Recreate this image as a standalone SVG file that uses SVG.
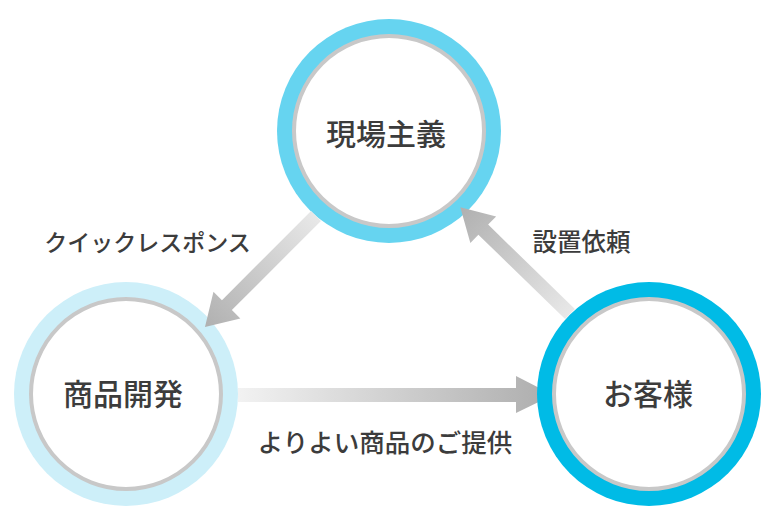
<svg xmlns="http://www.w3.org/2000/svg" width="775" height="525" viewBox="0 0 775 525">
<style>
.lbl{font-family:"Noto Sans CJK JP","Noto Sans",sans-serif;fill:#3c3c3c;text-anchor:middle;font-weight:500}
.node{font-size:30px}
.edge{font-size:23px}
.inner{fill:#fff;stroke:#c8c8c8;stroke-width:4}
</style>
<defs>
<linearGradient id="gL" gradientUnits="userSpaceOnUse" x1="0" y1="0" x2="157" y2="0">
<stop offset="0" stop-color="#e8e8e8"/><stop offset="1" stop-color="#b0b0b0"/>
</linearGradient>
<linearGradient id="gR" gradientUnits="userSpaceOnUse" x1="0" y1="0" x2="153" y2="0">
<stop offset="0" stop-color="#e8e8e8"/><stop offset="1" stop-color="#b0b0b0"/>
</linearGradient>
<linearGradient id="gB" gradientUnits="userSpaceOnUse" x1="238" y1="0" x2="553" y2="0">
<stop offset="0" stop-color="#f2f2f2"/><stop offset="1" stop-color="#adadad"/>
</linearGradient>
</defs>
<rect width="775" height="525" fill="#fff"/>
<g id="connector-bottom">
<polygon points="238,388 516,388 516,376 553,395 516,413 516,402 238,402" fill="url(#gB)"/>
</g>
<g id="node-top">
<circle cx="389" cy="131" r="112" fill="#66d4f0"/>
<circle class="inner" cx="389" cy="131" r="95"/>
<text class="lbl node" x="386" y="145">現場主義</text>
</g>
<g id="node-left">
<circle cx="126" cy="394" r="112" fill="#cdeff9"/>
<circle class="inner" cx="126" cy="394" r="95"/>
<text class="lbl node" x="123" y="405">商品開発</text>
</g>
<g id="node-right">
<circle cx="649" cy="394" r="112" fill="#00bbe6"/>
<circle class="inner" cx="649" cy="394" r="95"/>
<text class="lbl node" x="648" y="405">お客様</text>
</g>
<g id="connectors">
<path transform="translate(316,216) rotate(135)" d="M0,-7 L126,-7 L126,-19 L157,0 L126,19 L126,7 L0,7 Z" fill="url(#gL)"/>
<path transform="translate(570,314) rotate(-135.8)" d="M0,-7 L121,-7 L121,-18.5 L153,0 L121,18.5 L121,7 L0,7 Z" fill="url(#gR)"/>
</g>
<g id="labels">
<text class="lbl edge" x="147.5" y="251">クイックレスポンス</text>
<text class="lbl edge" x="581.5" y="251" style="font-size:24.5px">設置依頼</text>
<text class="lbl edge" x="385" y="452" style="font-size:25.5px">よりよい商品のご提供</text>
</g>
</svg>
